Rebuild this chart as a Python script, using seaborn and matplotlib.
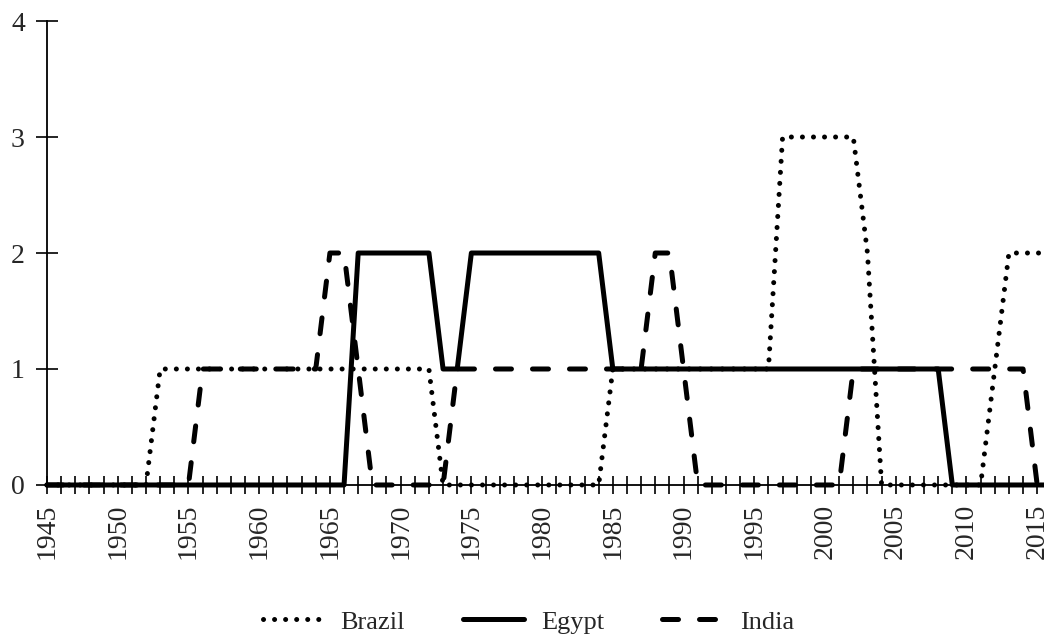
import pandas as pd
import matplotlib.pyplot as plt
import matplotlib.ticker as mticker
import seaborn as sns

# Data (1945-2016)
years = list(range(1945, 2017))

brazil = ([0] * 8 +        # 1945-1952
          [1] * 20 +       # 1953-1972
          [0] * 12 +       # 1973-1984
          [1] * 12 +       # 1985-1996
          [3] * 6 +        # 1997-2002
          [2] +            # 2003
          [0] * 8 +        # 2004-2011
          [1] +            # 2012
          [2] * 4)         # 2013-2016

egypt = ([0] * 22 +        # 1945-1966
         [2] * 6 +         # 1967-1972
         [1] * 2 +         # 1973-1974
         [2] * 10 +        # 1975-1984
         [1] * 24 +        # 1985-2008
         [0] * 8)          # 2009-2016

india = ([0] * 11 +        # 1945-1955
         [1] * 9 +         # 1956-1964
         [2] * 2 +         # 1965-1966
         [1] +             # 1967
         [0] * 6 +         # 1968-1973
         [1] * 14 +        # 1974-1987
         [2] * 2 +         # 1988-1989
         [1] +             # 1990
         [0] * 11 +        # 1991-2001
         [1] * 13 +        # 2002-2014
         [0] * 2)          # 2015-2016

countries = ["Brazil", "Egypt", "India"]

df = pd.DataFrame({
    "year": years * 3,
    "value": brazil + egypt + india,
    "country": ["Brazil"] * len(years) + ["Egypt"] * len(years) + ["India"] * len(years),
})

sns.set_style("white")
plt.rcParams["font.family"] = ["Liberation Serif", "DejaVu Serif"]
plt.rcParams["font.size"] = 20

fig = plt.figure(figsize=(10.44, 6.41), dpi=100)
ax = fig.add_axes([0.045, 0.2434, 0.955, 0.7238])

sns.lineplot(data=df, x="year", y="value", style="country",
             style_order=countries,
             dashes={"Brazil": (0.01, 2.2), "Egypt": "", "India": (3.2, 4.2)},
             color="black", linewidth=3.6, dash_capstyle="round",
             errorbar=None, legend=False, clip_on=False, ax=ax)

ax.set_xlim(1945, 2015.48)
ax.set_ylim(0, 4)
ax.set_yticks([0, 1, 2, 3, 4])
ax.xaxis.set_major_locator(mticker.MultipleLocator(5))
ax.xaxis.set_minor_locator(mticker.MultipleLocator(1))
ax.tick_params(axis="x", which="both", direction="inout", length=13, width=1.2,
               color="black", bottom=True, labelrotation=90, pad=7)
ax.tick_params(axis="y", direction="inout", length=16, width=1.2,
               color="black", left=True, pad=8)
ax.set_xlabel("")
ax.set_ylabel("")

for side in ["top", "right"]:
    ax.spines[side].set_visible(False)
for side in ["left", "bottom"]:
    ax.spines[side].set_color("black")
    ax.spines[side].set_linewidth(1.3)

handles = ax.get_lines()[:3]
fig.legend(handles, countries, loc="center", bbox_to_anchor=(0.506, 0.03),
           ncol=3, frameon=False, handlelength=2.3, handletextpad=0.65,
           columnspacing=2.2, fontsize=19)

plt.savefig("out.png", dpi=100)
